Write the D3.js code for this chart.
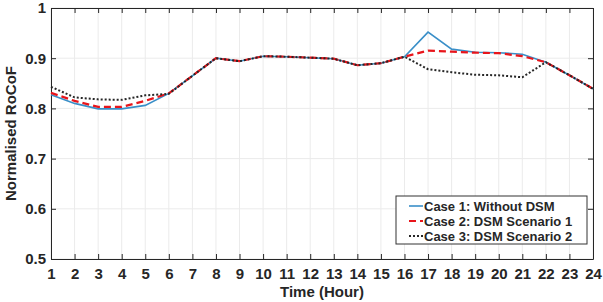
<!DOCTYPE html>
<html>
<head>
<meta charset="utf-8">
<script src="https://cdn.jsdelivr.net/npm/d3@7"></script>
<style>
body { margin: 0; background: #fff; }
text { font-family: "Liberation Sans", Arial, sans-serif; font-weight: bold; fill: #262626; }
</style>
</head>
<body>
<svg id="chart" width="603" height="302"></svg>
<script>
// data
var hours = d3.range(1, 25);
var case1 = [0.827, 0.810, 0.799, 0.799, 0.806, 0.830, 0.865, 0.900, 0.894, 0.904, 0.903, 0.901,
             0.899, 0.886, 0.890, 0.903, 0.952, 0.918, 0.912, 0.911, 0.908, 0.892, 0.866, 0.839];
var case2 = [0.831, 0.815, 0.803, 0.803, 0.815, 0.830, 0.865, 0.900, 0.894, 0.904, 0.903, 0.901,
             0.899, 0.886, 0.890, 0.903, 0.915, 0.913, 0.911, 0.910, 0.904, 0.892, 0.866, 0.839];
var case3 = [0.843, 0.822, 0.818, 0.817, 0.826, 0.829, 0.865, 0.900, 0.894, 0.904, 0.903, 0.901,
             0.899, 0.886, 0.890, 0.903, 0.878, 0.872, 0.867, 0.866, 0.862, 0.892, 0.866, 0.839];
var yTicks = [0.5, 0.6, 0.7, 0.8, 0.9, 1];
var legendLabels = ["Case 1: Without DSM", "Case 2: DSM Scenario 1", "Case 3: DSM Scenario 2"];

var margin = {left: 51, top: 8, right: 10, bottom: 43};
var W = 603, H = 302;

var svg = d3.select('#chart');
var x = d3.scaleLinear().domain([1, 24]).range([margin.left, W - margin.right]);
var y = d3.scaleLinear().domain([0.5, 1]).range([H - margin.bottom, margin.top]);

// grid
var g = svg.append('g').attr('class', 'grid');
hours.forEach(function(h) {
    g.append('line')
        .attr('x1', x(h)).attr('x2', x(h))
        .attr('y1', y(0.5)).attr('y2', y(1))
        .style('stroke', '#ebebeb').style('stroke-width', 1);
});
yTicks.forEach(function(t) {
    g.append('line')
        .attr('x1', x(1)).attr('x2', x(24))
        .attr('y1', y(t)).attr('y2', y(t))
        .style('stroke', '#ebebeb').style('stroke-width', 1);
});

// axes
var xAxis = d3.axisBottom(x).tickValues(hours).tickFormat(d3.format('d')).tickSizeInner(-5).tickSizeOuter(0).tickPadding(9);
var gx = svg.append('g').attr('transform', 'translate(0,' + y(0.5) + ')').call(xAxis);
var xTop = d3.axisTop(x).tickValues(hours).tickFormat('').tickSizeInner(-5).tickSizeOuter(0);
var gxt = svg.append('g').attr('transform', 'translate(0,' + y(1) + ')').call(xTop);
var yAxis = d3.axisLeft(y).tickValues(yTicks).tickFormat(function(d) { return d === 1 ? '1' : d3.format('.1f')(d); })
    .tickSizeInner(-5).tickSizeOuter(0).tickPadding(5);
var gy = svg.append('g').attr('transform', 'translate(' + x(1) + ',0)').call(yAxis);
var yRight = d3.axisRight(y).tickValues(yTicks).tickFormat('').tickSizeInner(-5).tickSizeOuter(0);
var gyr = svg.append('g').attr('transform', 'translate(' + x(24) + ',0)').call(yRight);

[gx, gxt, gy, gyr].forEach(function(a) {
    a.select('.domain').style('stroke', '#262626').style('stroke-width', 1);
    a.selectAll('.tick line').style('stroke', '#262626');
    a.selectAll('.tick text').style('font-size', '15px').style('font-family', '"Liberation Sans", Arial, sans-serif').style('font-weight', 'bold').style('fill', '#262626');
});
gx.selectAll('.tick text').attr('dy', '0.71em');

// series
var line = d3.line().x(function(d, i) { return x(hours[i]); }).y(function(d) { return y(d); });
var series = [
    {vals: case1, color: '#3a8fc8', dash: null, width: 1.6},
    {vals: case2, color: '#e8151b', dash: '7,4', width: 2.2},
    {vals: case3, color: '#262626', dash: '2,2', width: 2}
];
series.forEach(function(s) {
    svg.append('path').datum(s.vals)
        .attr('d', line)
        .style('fill', 'none')
        .style('stroke', s.color)
        .style('stroke-width', s.width)
        .style('stroke-dasharray', s.dash);
});

// axis labels
svg.append('text')
    .attr('x', (x(1) + x(24)) / 2).attr('y', 297)
    .attr('text-anchor', 'middle')
    .style('font-size', '15px')
    .text('Time (Hour)');
svg.append('text')
    .attr('transform', 'translate(16,' + ((y(0.5) + y(1)) / 2) + ') rotate(-90)')
    .attr('text-anchor', 'middle')
    .style('font-size', '15px')
    .text('Normalised RoCoF');

// legend
var lg = svg.append('g').attr('transform', 'translate(396,196)');
lg.append('rect').attr('width', 191).attr('height', 48)
    .style('fill', '#fff').style('stroke', '#333').style('stroke-width', 1);
series.forEach(function(s, i) {
    var ly = 10 + i * 15;
    lg.append('line')
        .attr('x1', 13).attr('x2', 27).attr('y1', ly).attr('y2', ly)
        .style('stroke', s.color).style('stroke-width', s.width)
        .style('stroke-dasharray', s.dash);
    lg.append('text')
        .attr('x', 28).attr('y', ly).attr('dy', '0.35em')
        .style('font-size', '13px')
        .text(legendLabels[i]);
});
</script>
</body>
</html>
